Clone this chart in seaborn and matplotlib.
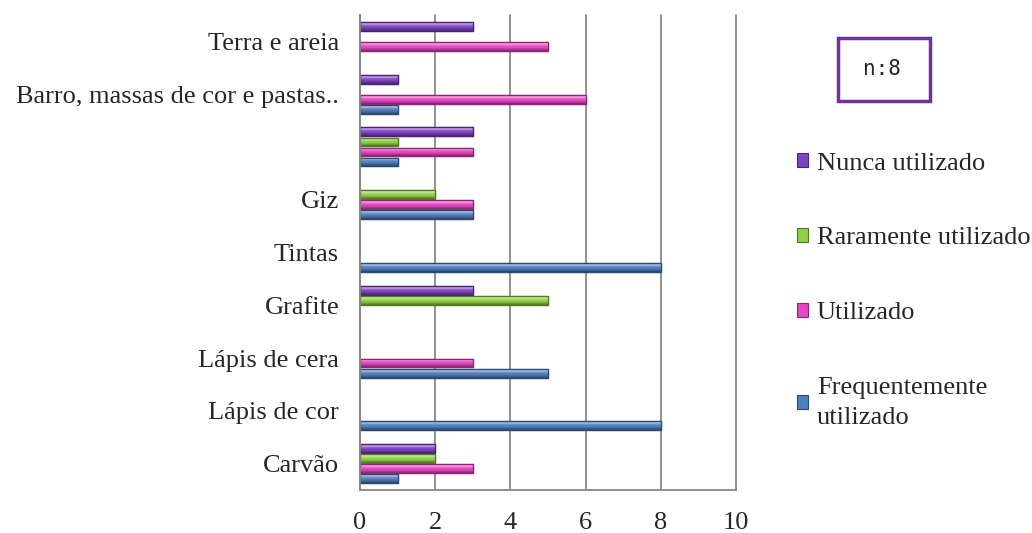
import numpy as np
import pandas as pd
import seaborn as sns
import matplotlib
matplotlib.use("Agg")
import matplotlib.pyplot as plt
from matplotlib.patches import Rectangle, Patch
from matplotlib.ticker import FixedLocator
from matplotlib.colors import to_rgb

# ---- data (top to bottom as displayed) ----
categories = ["Terra e areia", "Barro, massas de cor e pastas..", " ", "Giz", "Tintas",
              "Grafite", "Lápis de cera", "Lápis de cor", "Carvão"]
nunca = [3, 1, 3, 0, 0, 3, 0, 0, 2]
raramente = [0, 0, 1, 2, 0, 5, 0, 0, 2]
utilizado = [5, 6, 3, 3, 0, 0, 3, 0, 3]
frequente = [0, 1, 1, 3, 8, 0, 5, 8, 1]
series_names = ["Nunca utilizado", "Raramente utilizado", "Utilizado", "Frequentemente utilizado"]
legend_labels = ["Nunca utilizado", "Raramente utilizado", "Utilizado", "Frequentemente\nutilizado"]
x_ticks = [0, 2, 4, 6, 8, 10]
n_text = "n:8"

colors = ["#7f42c2", "#8fcf45", "#e647c2", "#4f7ebd"]
edges = ["#4a2378", "#4f7a22", "#8e2577", "#2c4a73"]

rows = []
for name, vals in zip(series_names, [nunca, raramente, utilizado, frequente]):
    for c, v in zip(categories, vals):
        rows.append({"cat": c, "serie": name, "valor": v})
df = pd.DataFrame(rows)

sns.set_style("white")
plt.rcParams["font.family"] = ["Liberation Serif", "DejaVu Serif"]
FS = 19

fig = plt.figure(figsize=(10.32, 5.33), dpi=100)
ax = fig.add_axes([360 / 1032, 1 - 490 / 533, 376 / 1032, 475 / 533])

sns.barplot(data=df, y="cat", x="valor", hue="serie", order=categories,
            hue_order=series_names, palette=colors, orient="h",
            width=0.76, gap=0.12, ax=ax, legend=False, errorbar=None,
            linewidth=0.9, saturation=1)

ax.set_xlim(0, 10)
ax.set_ylim(len(categories) - 0.5, -0.5)


def shade(base, f):
    r = np.array(to_rgb(base))
    if f >= 0:
        return r + (1 - r) * f
    return r * (1 + f)


# 3D-like gradient on each bar
for cont, col, ec in zip(ax.containers, colors, edges):
    stops = [shade(col, 0.15), shade(col, 0.55), shade(col, 0.1), shade(col, 0.0),
             shade(col, -0.2), shade(col, -0.45)]
    pos = np.linspace(0, 1, len(stops))
    t = np.linspace(0, 1, 32)
    grad = np.stack([np.interp(t, pos, np.array([s[i] for s in stops], dtype=float))
                     for i in range(3)], axis=-1)
    grad = grad[:, None, :]
    for bar in cont:
        bar.set_edgecolor(ec)
        w = bar.get_width()
        if w == 0:
            bar.set_visible(False)
            continue
        x0, y0 = bar.get_x(), bar.get_y()
        h = bar.get_height()
        ymin, ymax = min(y0, y0 + h), max(y0, y0 + h)
        im = ax.imshow(grad, extent=(x0, x0 + w, ymax, ymin), origin="upper",
                       aspect="auto", interpolation="bilinear", zorder=bar.get_zorder() + 0.1)
        im.set_clip_path(bar)
        ax.add_patch(Rectangle((x0, y0), w, h, facecolor="none", edgecolor=ec,
                               linewidth=0.9, zorder=bar.get_zorder() + 0.2))

ax.set_xlim(0, 10)
ax.set_ylim(len(categories) - 0.5, -0.5)
ax.set_xticks(x_ticks)
ax.set_xticklabels([str(t) for t in x_ticks], fontsize=FS)
ax.set_ylabel("")
ax.set_xlabel("")
ax.tick_params(axis="y", which="major", length=0, labelsize=FS, pad=15)
for lbl in ax.get_yticklabels():
    lbl.set_verticalalignment("center_baseline")
ax.yaxis.set_minor_locator(FixedLocator(np.arange(-0.5, len(categories), 1.0)))
ax.tick_params(axis="y", which="minor", length=6, width=1.3, color="#888888")
ax.tick_params(axis="x", which="major", length=7, width=1.3, color="#888888", pad=9)

ax.grid(axis="x", color="#888888", linewidth=1.3)
for gl in ax.get_xgridlines():
    gl.set_clip_on(False)
ax.set_axisbelow(True)
for s in ["top", "right"]:
    ax.spines[s].set_visible(False)
for s in ["left", "bottom"]:
    ax.spines[s].set_color("#888888")
    ax.spines[s].set_linewidth(1.3)

# legend
handles = [Patch(facecolor=c, edgecolor=e, linewidth=0.8) for c, e in zip(colors, edges)]
leg = fig.legend(handles, legend_labels, loc="upper left",
                 bbox_to_anchor=(786 / 1032, 1 - 142 / 533),
                 frameon=False, fontsize=FS, handlelength=0.42, handleheight=0.42,
                 handletextpad=0.35, labelspacing=2.0, borderaxespad=0)
leg.get_texts()[3].set_linespacing(1.45)

# n box
fig.patches.append(Rectangle((838 / 1032, 1 - 101 / 533), 92 / 1032, 63 / 533,
                             transform=fig.transFigure, facecolor="white",
                             edgecolor="#7030a0", linewidth=2.5))
fig.text(882 / 1032, 1 - 69 / 533, n_text, ha="center", va="center",
         fontsize=15, family="DejaVu Sans Mono")

fig.savefig("out.png", dpi=100)
